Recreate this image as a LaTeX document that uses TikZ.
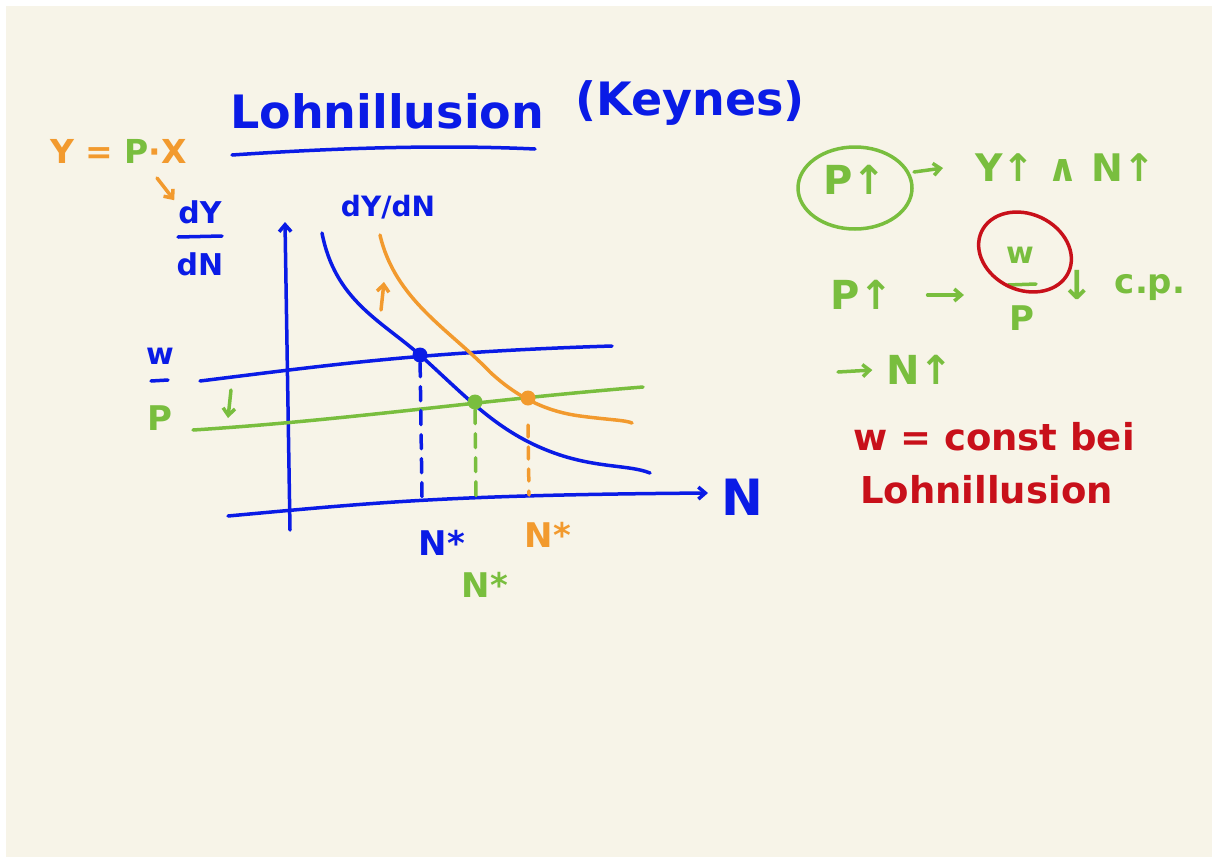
\documentclass[tikz,border=0pt]{standalone}
\usepackage{fontspec}
\setmainfont{DejaVu Sans}
\usetikzlibrary{arrows.meta}

\definecolor{pen}{HTML}{0A1BE6}
\definecolor{orng}{HTML}{F29A2E}
\definecolor{grn}{HTML}{79BE3E}
\definecolor{rd}{HTML}{C8101A}
\definecolor{paper}{HTML}{F7F4E8}

\begin{document}
\begin{tikzpicture}[x=1pt, y=-1pt,
  ink/.style={line width=3.5pt, line cap=round, line join=round},
  barb/.style={-{Straight Barb[length=7pt, width=12pt]}},
  hand/.style={inner sep=0pt, font=\bfseries\fontsize{#1}{#1}\selectfont},
  dot/.style={circle, fill, inner sep=0pt, minimum size=15pt}]
\useasboundingbox (0,0) rectangle (1212,857);
\fill[white] (0,0) rectangle (1212,857);
\fill[paper] (6,6) rectangle (1212,857);

% title
\node[hand=46, text=pen, anchor=base west] (title) at (230,128) {Lohnillusion};
\node[hand=46, text=pen, anchor=base west] (keynes) at (575,115) {(Keynes)};
\draw[ink, pen] (232,155) .. controls (350,147) and (450,145) .. (535,149);

% left labels
\node[hand=33, anchor=base west] (yeq) at (50,163)
  {\color{orng}Y = \color{grn}P\color{orng}·X};
\coordinate (hook) at (157,178);
\node[hand=30, text=pen] (dy) at (200,212) {dY};
\node[hand=30, text=pen] (dn) at (200,264) {dN};
\draw[ink, orng, barb] (hook) -- ([xshift=-4pt]dy.north west);
\draw[ink, pen] (178,237) -- (222,236);
\node[hand=28, text=pen] (mpl) at (388,207) {dY/dN};

\node[hand=30, text=pen] (w1) at (160,356) {w};
\draw[ink, pen] (151,381) -- (168,380);
\node[hand=34, text=grn] (p1) at (160,418) {P};

% axes
\coordinate (yb) at (290,530);
\coordinate (yt) at (285,222);
\coordinate (xl) at (228,516);
\coordinate (xr) at (708,493);
\draw[ink, pen, barb] (yb) -- (yt);
\draw[ink, pen, barb] (xl) .. controls (380,502) and (450,495) .. (xr);
\node[hand=50, text=pen] (nax) at (742,497) {N};

% real wage lines
\draw[ink, pen] (200,381) .. controls (330,365) and (420,352) .. (612,346);
\draw[ink, grn] (193,430) .. controls (350,420) and (480,400) .. (643,387);
\draw[ink, grn, barb] (231,390) -- (228,418);

% marginal product curves
\draw[ink, pen] (322,233) .. controls (335,300) and (380,320) .. (420,355)
  .. controls (470,400) and (500,435) .. (560,455) .. controls (600,468) and (630,465) .. (650,473);
\draw[ink, orng] (380,235) .. controls (395,300) and (450,330) .. (490,372)
  .. controls (520,400) and (550,412) .. (580,416) .. controls (610,420) and (625,420) .. (632,423);
\draw[ink, orng, barb] (381,310) -- (384,282);

% equilibria
\node[dot, fill=pen] (eb) at (420,355) {};
\node[dot, fill=grn] (eg) at (475,402) {};
\node[dot, fill=orng] (eo) at (528,398) {};
\coordinate (fb) at (422,497);
\coordinate (fg) at (476,497);
\coordinate (fo) at (529,495);
\draw[ink, pen, dash pattern=on 14pt off 10pt] (eb) -- (fb);
\draw[ink, grn, dash pattern=on 14pt off 10pt] (eg) -- (fg);
\draw[ink, orng, dash pattern=on 12pt off 10pt] ([yshift=-27pt]eo.center) -- (fo);

\node[hand=34, text=pen] (nb) at (442,543) {N*};
\node[hand=34, text=orng] (no) at (548,535) {N*};
\node[hand=34, text=grn] (ng) at (485,585) {N*};

% right column
\node[hand=40, text=grn] (pu1) at (855,180) {P↑};
\draw[ink, grn] (855,188) ellipse [x radius=57, y radius=41];
\node[hand=38, text=grn, anchor=west] (yn) at (975,168) {Y↑ ∧ N↑};
\draw[ink, grn, barb] (914,172) -- ([xshift=-32pt]yn.west);

\node[hand=40, text=grn] (pu2) at (862,295) {P↑};
\node[hand=30, text=grn] (wr) at (1020,255) {w};
\draw[ink, grn] (1008,285) -- (1036,284);
\node[hand=34, text=grn] (pr) at (1022,318) {P};
\draw[ink, rd, rotate around={-25:(1025,252)}] (1025,252) ellipse [x radius=48, y radius=38];
\draw[ink, grn, barb] ([xshift=34pt]pu2.east) -- ([xshift=-42pt]pu2.east -| wr.west);
\node[hand=40, text=grn] (dn2) at (1077,285) {↓};
\node[hand=34, text=grn] (cp) at (1150,288) {c.p.};

\coordinate (ar3) at (838,372);
\node[hand=40, text=grn] (nu) at (920,370) {N↑};
\draw[ink, grn, barb] (ar3) -- ([xshift=-14pt]nu.west);

\node[hand=37, text=rd, anchor=west] (const) at (853,437) {w = const bei};
\node[hand=37, text=rd, anchor=west] (lohn) at (860,490) {Lohnillusion};
\end{tikzpicture}
\end{document}
